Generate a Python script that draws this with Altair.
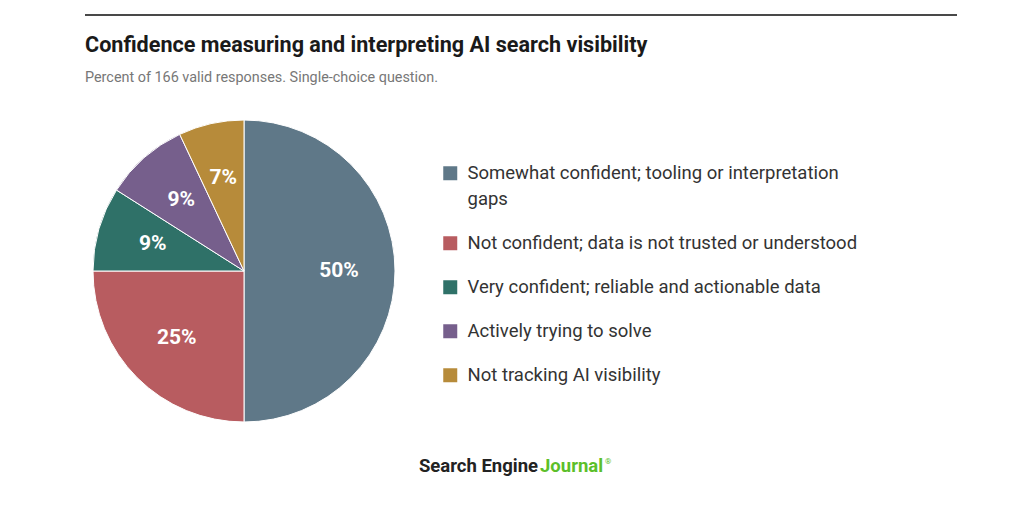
import altair as alt
import pandas as pd

categories = [
    "Somewhat confident; tooling or interpretation gaps",
    "Not confident; data is not trusted or understood",
    "Very confident; reliable and actionable data",
    "Actively trying to solve",
    "Not tracking AI visibility",
]
values = [50, 25, 9, 9, 7]
pct_labels = ["50%", "25%", "9%", "9%", "7%"]
colors = ["#5f7888", "#b85c60", "#2f7168", "#765f8c", "#b78b3a"]
order = [0, 1, 2, 3, 4]

title_text = "Confidence measuring and interpreting AI search visibility"
subtitle_text = "Percent of 166 valid responses. Single-choice question."
brand_dark = "Search Engine"
brand_green = "Journal"
brand_mark = "®"

df = pd.DataFrame({"category": categories, "value": values, "label": pct_labels, "order": order})

FONT = "Roboto"

label_expr = (
    "datum.label == '" + categories[0] + "' ? "
    "['Somewhat confident; tooling or interpretation', 'gaps'] : datum.label"
)

theta = alt.Theta("value:Q", stack=True)
color = alt.Color(
    "category:N",
    scale=alt.Scale(domain=categories, range=colors),
    sort=categories,
    legend=alt.Legend(
        title=None,
        orient="none",
        legendX=433,
        legendY=56,
        symbolType="square",
        symbolSize=196,
        symbolStrokeWidth=0,
        symbolOpacity=1,
        labelFont=FONT,
        labelFontSize=18.5,
        labelColor="#333333",
        labelLimit=600,
        labelOffset=8,
        labelExpr=label_expr,
        labelBaseline="top",
        rowPadding=25,
        direction="vertical",
    ),
)

cx, cy, R = 236, 163, 151

pie = alt.Chart(df).mark_arc(outerRadius=R, stroke="white", strokeWidth=1).encode(
    theta=theta,
    color=color,
    order=alt.Order("order:Q"),
    x=alt.value(cx),
    y=alt.value(cy),
)

text = alt.Chart(df).mark_text(
    radius=95, font=FONT, fontSize=21, fontWeight="bold", color="white"
).encode(
    theta=theta,
    order=alt.Order("order:Q"),
    text="label:N",
    x=alt.value(cx),
    y=alt.value(cy),
)

rule = alt.Chart(df).mark_rule(color="#444444", strokeWidth=1).encode(
    x=alt.value(77), x2=alt.value(949), y=alt.value(-93)
)

title = alt.Chart(pd.DataFrame({"t": [title_text]})).mark_text(
    align="left", baseline="alphabetic", font=FONT, fontSize=21.6, fontWeight="bold", color="#1a1a1a"
).encode(text="t:N", x=alt.value(77), y=alt.value(-56))

subtitle = alt.Chart(pd.DataFrame({"t": [subtitle_text]})).mark_text(
    align="left", baseline="alphabetic", font=FONT, fontSize=14.4, color="#777777"
).encode(text="t:N", x=alt.value(77), y=alt.value(-26))

logo_dark = alt.Chart(pd.DataFrame({"t": [brand_dark]})).mark_text(
    align="right", baseline="alphabetic", font=FONT, fontSize=18.5, fontWeight="bold", color="#222222"
).encode(text="t:N", x=alt.value(530), y=alt.value(364))

logo_green = alt.Chart(pd.DataFrame({"t": [brand_green]})).mark_text(
    align="left", baseline="alphabetic", font=FONT, fontSize=18.5, fontWeight="bold", color="#5cbf2a"
).encode(text="t:N", x=alt.value(532), y=alt.value(364))

logo_reg = alt.Chart(pd.DataFrame({"t": [brand_mark]})).mark_text(
    align="left", baseline="alphabetic", font=FONT, fontSize=8, color="#5cbf2a"
).encode(text="t:N", x=alt.value(597), y=alt.value(356))

chart = alt.layer(rule, title, subtitle, pie, text, logo_dark, logo_green, logo_reg).properties(
    width=1008,
    height=390,
    padding={"left": 0, "top": 100, "right": 0, "bottom": 0},
    autosize=alt.AutoSizeParams(type="none"),
).configure(
    background="white",
    view=alt.ViewConfig(strokeWidth=0, stroke="transparent"),
    style={"guide-label": {"dy": -9, "lineHeight": 26}},
)

chart.save("out.html", embed_options={"renderer": "svg", "actions": False})
